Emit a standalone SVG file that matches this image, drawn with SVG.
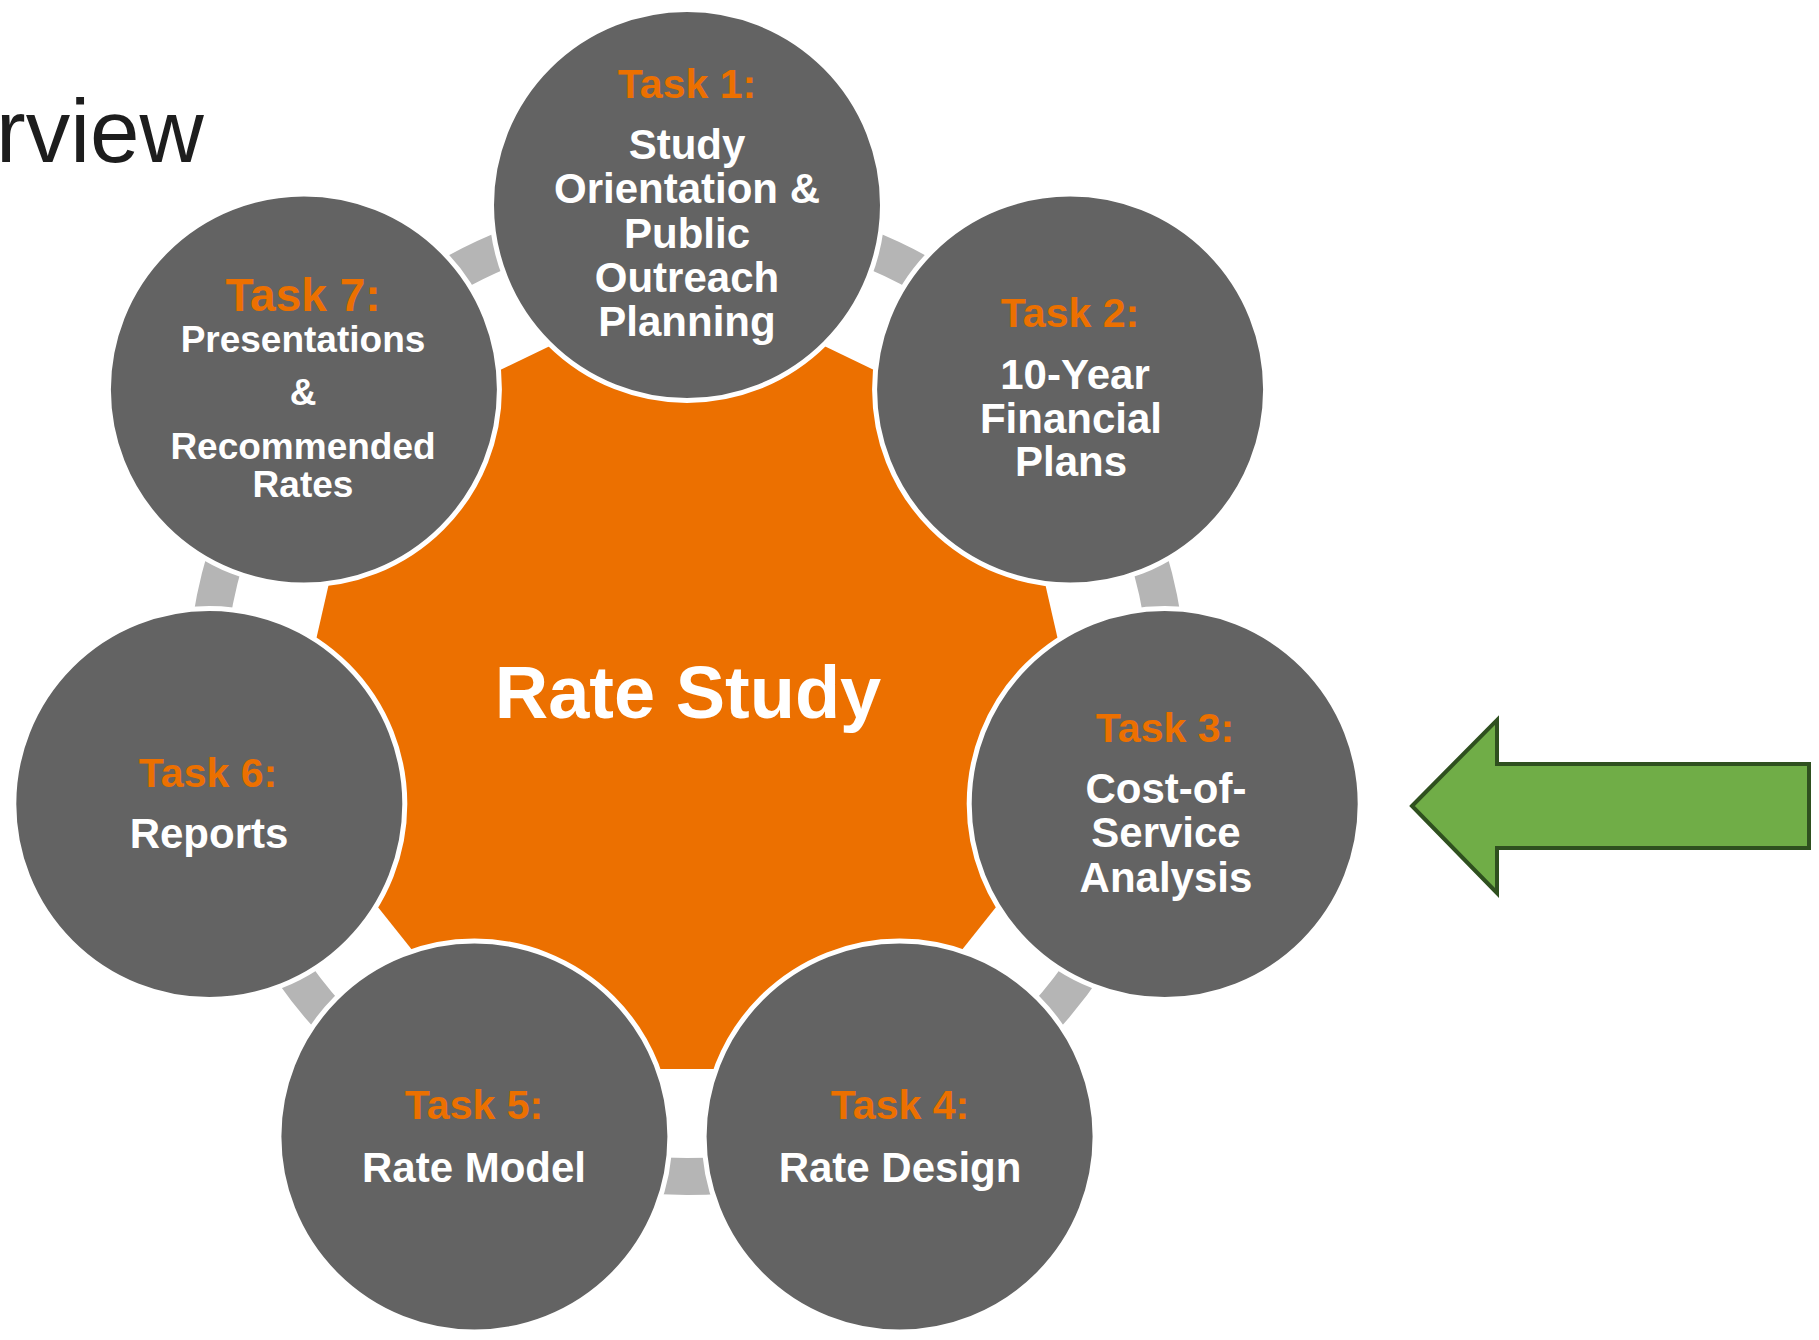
<svg xmlns="http://www.w3.org/2000/svg" width="1819" height="1340" viewBox="0 0 1819 1340">
<style>
.node{fill:#636363;stroke:#ffffff;stroke-width:5}
.lbl{font-family:"Liberation Sans",Arial,sans-serif;font-weight:bold;font-size:41px;fill:#EC7000;text-anchor:middle}
.txt{font-family:"Liberation Sans",Arial,sans-serif;font-weight:bold;font-size:42px;fill:#ffffff;text-anchor:middle}
.conn{fill:none;stroke:#B5B5B5;stroke-width:37}
</style>
<rect width="1819" height="1340" fill="#ffffff"/>
<text x="-4" y="162" font-family="'Liberation Sans',Arial,sans-serif" font-size="89" fill="#1d1d1d">rview</text>
<g id="center">
<polygon points="687,280 1011.5,436.3 1091.6,787.3 867.1,1068.9 506.9,1068.9 282.4,787.3 362.5,436.3" fill="#EC7000"/>
<text x="688" y="718" font-family="'Liberation Sans',Arial,sans-serif" font-weight="bold" font-size="74" fill="#ffffff" text-anchor="middle">Rate Study</text>
</g>
<g id="connectors">
<path class="conn" d="M 803.6,227.8 A 481.5 481.5 0 0 1 979.6,312.6"/>
<path class="conn" d="M 1125.0,494.9 A 481.5 481.5 0 0 1 1168.4,685.3"/>
<path class="conn" d="M 1116.5,912.6 A 481.5 481.5 0 0 1 994.7,1065.4"/>
<path class="conn" d="M 784.6,1166.5 A 481.5 481.5 0 0 1 589.4,1166.5"/>
<path class="conn" d="M 379.3,1065.3 A 481.5 481.5 0 0 1 257.5,912.6"/>
<path class="conn" d="M 205.6,685.3 A 481.5 481.5 0 0 1 249.0,494.9"/>
<path class="conn" d="M 394.4,312.6 A 481.5 481.5 0 0 1 570.4,227.8"/>
</g>
<g id="task1">
<circle class="node" cx="687" cy="205" r="195.5"/>
<text class="lbl" x="687" y="98">Task 1:</text>
<text class="txt" x="687" y="159">Study</text>
<text class="txt" x="687" y="203">Orientation &amp;</text>
<text class="txt" x="687" y="248">Public</text>
<text class="txt" x="687" y="292">Outreach</text>
<text class="txt" x="687" y="336">Planning</text>
</g>
<g id="task2">
<circle class="node" cx="1070.1" cy="389.5" r="195.5"/>
<text class="lbl" x="1070" y="327">Task 2:</text>
<text class="txt" x="1075" y="389">10-Year</text>
<text class="txt" x="1071" y="433">Financial</text>
<text class="txt" x="1071" y="476">Plans</text>
</g>
<g id="task3">
<circle class="node" cx="1164.7" cy="804" r="195.5"/>
<text class="lbl" x="1165" y="742">Task 3:</text>
<text class="txt" x="1166" y="803">Cost-of-</text>
<text class="txt" x="1166" y="847">Service</text>
<text class="txt" x="1166" y="892">Analysis</text>
</g>
<g id="task4">
<circle class="node" cx="899.6" cy="1136.5" r="195.5"/>
<text class="lbl" x="900" y="1119">Task 4:</text>
<text class="txt" x="900" y="1182">Rate Design</text>
</g>
<g id="task5">
<circle class="node" cx="474.4" cy="1136.5" r="195.5"/>
<text class="lbl" x="474" y="1119">Task 5:</text>
<text class="txt" x="474" y="1182">Rate Model</text>
</g>
<g id="task6">
<circle class="node" cx="209.3" cy="804" r="195.5"/>
<text class="lbl" x="208" y="787">Task 6:</text>
<text class="txt" x="209" y="848">Reports</text>
</g>
<g id="task7">
<circle class="node" cx="303.9" cy="389.5" r="195.5"/>
<text class="lbl" x="303" y="311" style="font-size:46px">Task 7:</text>
<text class="txt" x="303" y="352" style="font-size:37px">Presentations</text>
<text class="txt" x="303" y="405" style="font-size:37px">&amp;</text>
<text class="txt" x="303" y="459" style="font-size:37px">Recommended</text>
<text class="txt" x="303" y="497" style="font-size:37px">Rates</text>
</g>
<g id="arrow">
<polygon points="1412,806 1497,720 1497,764 1809,764 1809,848 1497,848 1497,893" fill="#70AD47" stroke="#2F501F" stroke-width="4" stroke-linejoin="miter"/>
</g>
</svg>
